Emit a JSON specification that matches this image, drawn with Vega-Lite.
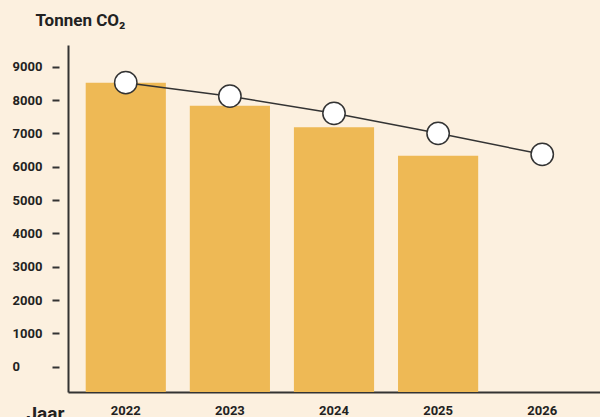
{
  "$schema": "https://vega.github.io/schema/vega-lite/v6.json",
  "width": 532,
  "height": 347,
  "autosize": {"type": "none"},
  "padding": {"left": 68, "top": 45, "right": 0, "bottom": 25},
  "background": "#FCF0DF",
  "config": {
    "view": {"stroke": null},
    "font": "Roboto",
    "axis": {"grid": false}
  },
  "data": {
    "values": [
      {"jaar": "2022", "uitstoot": 8520, "doel": 8520},
      {"jaar": "2023", "uitstoot": 7830, "doel": 8115},
      {"jaar": "2024", "uitstoot": 7180, "doel": 7600},
      {"jaar": "2025", "uitstoot": 6330, "doel": 7000},
      {"jaar": "2026", "uitstoot": null, "doel": 6370}
    ]
  },
  "encoding": {
    "x": {
      "field": "jaar",
      "type": "ordinal",
      "scale": {"paddingInner": 0.23, "paddingOuter": 0.17},
      "axis": {
        "labelAngle": 0,
        "ticks": false,
        "labelPadding": 12,
        "labelFontSize": 13,
        "labelFontWeight": "bold",
        "labelColor": "#222222",
        "domainColor": "#333333",
        "domainWidth": 2,
        "title": "Jaar",
        "titleFontSize": 19,
        "titleFontWeight": "bold",
        "titleColor": "#222222",
        "titleAnchor": null,
        "titleAlign": "left",
        "titleBaseline": "alphabetic",
        "titleX": -42,
        "titleY": 27
      }
    }
  },
  "layer": [
    {
      "mark": {"type": "bar", "color": "#EEB955"},
      "encoding": {
        "y": {
          "field": "uitstoot",
          "type": "quantitative",
          "scale": {"domain": [-760, 9650], "nice": false, "zero": false},
          "axis": {
            "orient": "left",
            "labels": false,
            "ticks": false,
            "title": null,
            "domainColor": "#333333",
            "domainWidth": 2
          }
        },
        "y2": {"datum": -760}
      }
    },
    {
      "mark": {"type": "line", "color": "#333333", "strokeWidth": 1.5},
      "encoding": {
        "y": {
          "field": "doel",
          "type": "quantitative",
          "axis": {
            "orient": "left",
            "offset": 9,
            "domain": false,
            "values": [0, 1000, 2000, 3000, 4000, 5000, 6000, 7000, 8000, 9000],
            "format": "d",
            "tickSize": 7,
            "tickWidth": 2,
            "tickColor": "#333333",
            "labelAlign": "left",
            "labelPadding": 40,
            "labelFontSize": 13,
            "labelFontWeight": "bold",
            "labelColor": "#222222",
            "title": "Tonnen CO₂",
            "titleAngle": 0,
            "titleAlign": "left",
            "titleBaseline": "alphabetic",
            "titleFontSize": 17,
            "titleFontWeight": "bold",
            "titleColor": "#222222",
            "titleAnchor": null,
            "titleX": -24,
            "titleY": -20
          }
        }
      }
    },
    {
      "mark": {"type": "point", "shape": "circle", "filled": true, "fill": "#FFFFFF", "stroke": "#333333", "strokeWidth": 1.5, "size": 500, "opacity": 1},
      "encoding": {
        "y": {"field": "doel", "type": "quantitative"}
      }
    }
  ],
  "resolve": {"axis": {"y": "independent"}}
}
